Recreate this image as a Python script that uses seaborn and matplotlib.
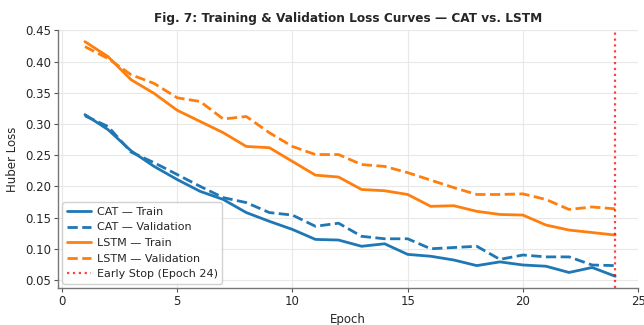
import numpy as np
import pandas as pd
import matplotlib
matplotlib.use("Agg")
import matplotlib.pyplot as plt
import seaborn as sns

epochs = list(range(1, 25))
cat_train = [0.315, 0.291, 0.257, 0.232, 0.211, 0.192, 0.179, 0.158, 0.144, 0.131,
             0.115, 0.114, 0.104, 0.108, 0.091, 0.088, 0.082, 0.073, 0.079, 0.074,
             0.072, 0.062, 0.070, 0.056]
cat_val = [0.313, 0.296, 0.255, 0.238, 0.219, 0.200, 0.182, 0.174, 0.158, 0.154,
           0.136, 0.141, 0.120, 0.116, 0.116, 0.100, 0.102, 0.104, 0.083, 0.090,
           0.087, 0.087, 0.074, 0.073]
lstm_train = [0.432, 0.408, 0.371, 0.349, 0.322, 0.304, 0.286, 0.264, 0.262, 0.240,
              0.218, 0.215, 0.195, 0.193, 0.187, 0.168, 0.169, 0.160, 0.155, 0.154,
              0.138, 0.130, 0.126, 0.122]
lstm_val = [0.424, 0.405, 0.379, 0.365, 0.342, 0.336, 0.308, 0.312, 0.286, 0.264,
            0.251, 0.251, 0.235, 0.232, 0.222, 0.210, 0.198, 0.187, 0.187, 0.188,
            0.179, 0.163, 0.167, 0.164]
early_stop_epoch = 24

sns.set_theme(style="whitegrid")
plt.rcParams["font.family"] = ["DejaVu Sans"]

fig, ax = plt.subplots(figsize=(6.44, 3.25), dpi=100)
fig.subplots_adjust(left=0.090, right=0.991, top=0.908, bottom=0.114)

blue = "#1f77b4"
orange = "#ff7f0e"
series = [
    (cat_train, "CAT — Train", blue, "-"),
    (cat_val, "CAT — Validation", blue, "--"),
    (lstm_train, "LSTM — Train", orange, "-"),
    (lstm_val, "LSTM — Validation", orange, "--"),
]
for vals, label, color, ls in series:
    df = pd.DataFrame({"Epoch": epochs, "Loss": vals})
    sns.lineplot(data=df, x="Epoch", y="Loss", ax=ax, color=color,
                 linestyle=ls, linewidth=2, label=label)

ax.axvline(early_stop_epoch, color="red", linestyle=":", linewidth=1.6, alpha=0.75,
           label=f"Early Stop (Epoch {early_stop_epoch})")

ax.set_xlim(-0.17, 25)
ax.set_xticks([0, 5, 10, 15, 20, 25])
ax.set_yticks([0.05, 0.10, 0.15, 0.20, 0.25, 0.30, 0.35, 0.40, 0.45])
ax.set_xlabel("Epoch", fontsize=8.5)
ax.set_ylabel("Huber Loss", fontsize=8.5)
ax.set_title("Fig. 7: Training & Validation Loss Curves — CAT vs. LSTM",
             fontsize=8.75, fontweight="bold")
ax.tick_params(axis="both", labelsize=8.5, length=3, width=0.8, color="#555555",
               left=True, bottom=True, pad=2)
ax.grid(True, color="#e8e8e8", linewidth=0.8)
for s in ["top", "right"]:
    ax.spines[s].set_visible(False)
for s in ["left", "bottom"]:
    ax.spines[s].set_color("#777777")
    ax.spines[s].set_linewidth(1.0)

leg = ax.legend(loc="lower left", fontsize=8, frameon=True, framealpha=0.9,
                borderpad=0.4, labelspacing=0.5, handlelength=2.2,
                handletextpad=0.5, borderaxespad=0.4)
leg.get_frame().set_edgecolor("#cccccc")

fig.savefig("out.png", dpi=100)
